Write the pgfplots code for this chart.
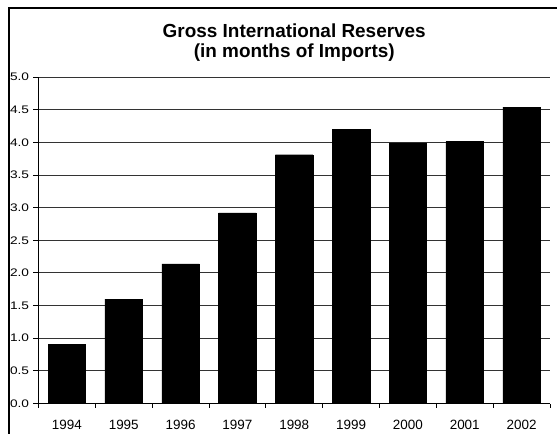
\documentclass[border=0pt]{standalone}
\usepackage{pgfplots}
\pgfplotsset{compat=1.18}
\usepackage{fontspec}
\setmainfont{Liberation Sans}

\begin{document}
\begin{tikzpicture}
\useasboundingbox (0,0) rectangle (557bp,434bp);
% outer frame (top and left edges visible)
\draw[line width=1.5bp] (9bp,0) -- (9bp,426bp) -- (557bp,426bp);
\begin{axis}[
    at={(38.5bp,30.5bp)}, anchor=south west,
    scale only axis,
    width=511.5bp, height=326.5bp,
    xmin=-0.5, xmax=8.5,
    ymin=0, ymax=5,
    axis x line*=bottom, axis y line*=left,
    axis line style={black, line width=0.8bp},
    xtick={0,...,8},
    xticklabels={1994,1995,1996,1997,1998,1999,2000,2001,2002},
    major x tick style={draw=none},
    minor xtick={-0.5,0.5,...,8.5},
    minor tick length=4bp,
    minor x tick style={black, line width=0.8bp},
    ytick={0,0.5,...,5},
    major tick length=5bp,
    tick align=outside,
    y tick style={black, line width=0.8bp},
    ymajorgrids,
    major grid style={black!80, line width=0.8bp},
    /pgf/number format/assume math mode=true,
    yticklabel style={/pgf/number format/.cd, fixed, fixed zerofill, precision=1,
        /tikz/.cd, font=\fontsize{11}{13}\selectfont, xscale=1.25, xshift=0bp},
    xticklabel style={font=\fontsize{13.5}{15}\selectfont, yshift=-8bp},
    title={Gross International Reserves\\(in months of Imports)},
    title style={align=center, font=\bfseries\fontsize{19}{20}\selectfont, yshift=6bp},
]
\addplot[ybar, bar width=37.5bp, fill=black, draw=black] coordinates {
    (0,0.91) (1,1.60) (2,2.14) (3,2.92) (4,3.81)
    (5,4.20) (6,3.99) (7,4.01) (8,4.54)
};
\end{axis}
\end{tikzpicture}
\end{document}
